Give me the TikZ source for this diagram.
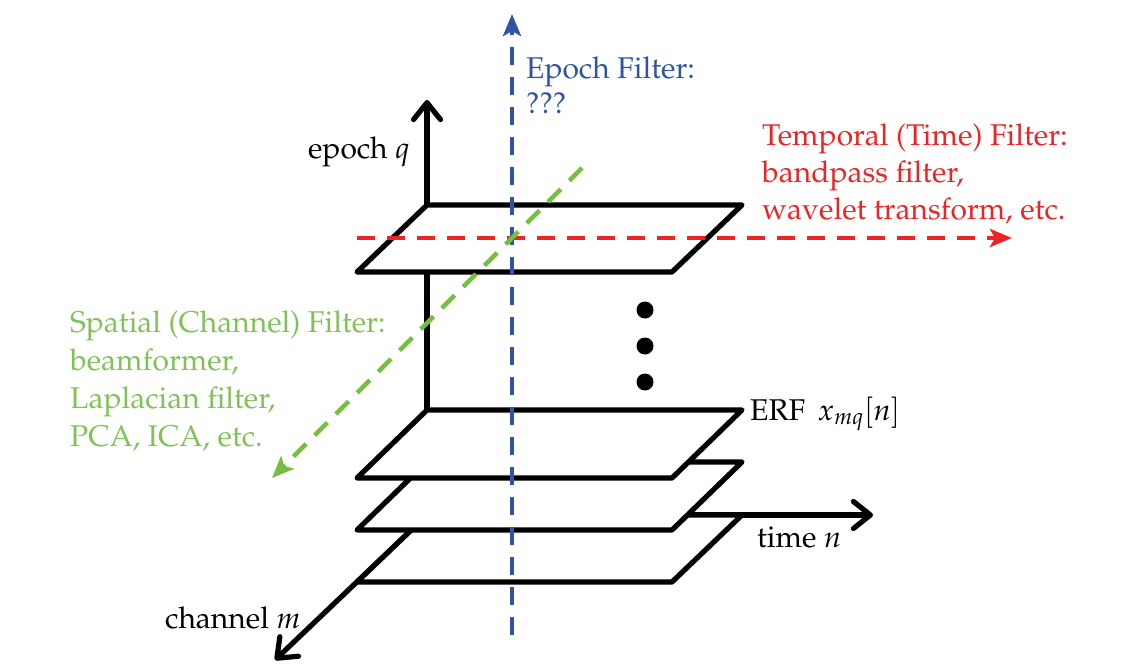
\documentclass[tikz,border=0pt]{standalone}
\usepackage[T1]{fontenc}
\usepackage{mathpazo}
\usetikzlibrary{arrows.meta}
\definecolor{eblue}{RGB}{47,84,165}
\definecolor{tred}{RGB}{237,35,36}
\definecolor{sgreen}{RGB}{118,190,67}
\definecolor{sgreentext}{RGB}{128,194,88}
\begin{document}
\begin{tikzpicture}[x=1pt,y=-1pt,
  axisline/.style={line width=5.2pt, line cap=round, line join=round,
    -{Straight Barb[length=17pt,width=27pt,line cap=round,line join=round]}},
  plane/.style={line width=5.2pt, line join=round, fill=white},
  filterline/.style={line width=4.3pt, dash pattern=on 18pt off 12pt,
    -{Stealth[length=22pt,width=18pt,inset=5pt]}},
  lbl/.style={anchor=base west, inner sep=0pt, align=left,
    font=\fontsize{30}{37}\selectfont}]
\useasboundingbox (0,0) rectangle (1145,664);
% axes
\coordinate (O) at (427,515);
\coordinate (Etip) at (427,100);
\coordinate (Ttip) at (873,515);
\coordinate (Ctip) at (275,660);
\draw[axisline] (O) -- (Etip);
\draw[axisline] (O) -- (Ttip);
\draw[axisline] (O) -- (Ctip);
% stacked planes (back to front)
\draw[plane] (427,515) -- (742,515) -- (672,582) -- (357,582) -- cycle;
\draw[plane] (427,462) -- (742,462) -- (672,530) -- (357,530) -- cycle;
\draw[plane] (427,410) -- (742,410) -- (672,478) -- (357,478) -- cycle;
\draw[plane] (427,205) -- (742,205) -- (672,272) -- (357,272) -- cycle;
% ellipsis dots
\fill (645,310) circle (8.5);
\fill (645,346) circle (8.5);
\fill (645,382) circle (8.5);
% filter arrows
\coordinate (Rs) at (357,238);
\coordinate (Re) at (1012,238);
\coordinate (Bs) at (512,635);
\coordinate (Be) at (512,14);
\coordinate (Gs) at (582,168);
\coordinate (Ge) at (272,478);
\draw[filterline, tred] (Rs) -- (Re);
\draw[filterline, eblue] (Bs) -- (Be);
\draw[filterline, sgreen] (Gs) -- (Ge);
% labels (base = baseline of the last line)
\node[lbl, eblue, font=\fontsize{30}{35}\selectfont] (epochf) at (526,113) {Epoch Filter:\\???};
\node[lbl, tred] (tempf) at (762,219) {Temporal (Time) Filter:\\bandpass filter,\\wavelet transform, etc.};
\node[lbl, sgreentext, font=\fontsize{30}{38}\selectfont] (spatf) at (70,446) {Spatial (Channel) Filter:\\beamformer,\\Laplacian filter,\\PCA, ICA, etc.};
\node[lbl, anchor=base east] (epochl) at (410,158) {epoch $q$};
\node[lbl] (erfl) at (750,420) {ERF\, $x_{mq}\!\left[n\right]$};
\node[lbl] (timel) at (757,547) {time $n$};
\node[lbl] (chanl) at (165,628) {channel $m$};
\end{tikzpicture}
\end{document}
